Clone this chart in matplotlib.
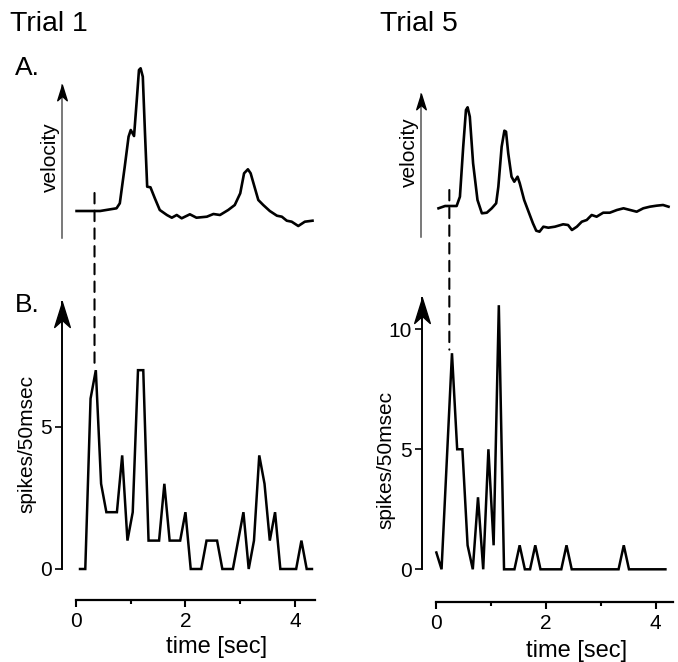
import numpy as np
import matplotlib.pyplot as plt
from matplotlib.patches import ConnectionPatch
from matplotlib.path import Path

plt.rcParams["font.family"] = ["Liberation Sans", "DejaVu Sans"]

W, H = 678, 662

# --- velocity traces (time in s, velocity in arbitrary units) ---
vel1_t = [0.01, 0.44, 0.74, 0.80, 0.89, 0.96, 1.00, 1.06, 1.11, 1.15, 1.18, 1.22,
          1.26, 1.30, 1.36, 1.44, 1.53, 1.66, 1.75, 1.84, 1.93, 2.08, 2.20, 2.39,
          2.51, 2.63, 2.78, 2.90, 3.00, 3.07, 3.14, 3.19, 3.26, 3.33, 3.42, 3.54,
          3.67, 3.76, 3.85, 3.94, 4.06, 4.18, 4.32]
vel1_v = [0.0, 0.0, 0.27, 0.77, 4.43, 7.43, 8.1, 7.5, 11.1, 14.1, 14.27, 13.43,
          7.77, 2.43, 2.37, 1.27, 0.1, -0.4, -0.67, -0.4, -0.73, -0.33, -0.67, -0.57,
          -0.3, -0.4, 0.1, 0.6, 1.77, 3.77, 4.17, 3.77, 2.43, 1.1, 0.6, 0.0,
          -0.47, -0.57, -0.97, -1.07, -1.5, -1.07, -0.97]

vel5_t = [0.04, 0.16, 0.37, 0.43, 0.49, 0.54, 0.57, 0.61, 0.67, 0.75, 0.83, 0.92,
          1.01, 1.09, 1.13, 1.19, 1.24, 1.27, 1.31, 1.37, 1.42, 1.48, 1.52, 1.60,
          1.68, 1.76, 1.82, 1.88, 1.95, 2.04, 2.16, 2.31, 2.40, 2.47, 2.56, 2.65,
          2.74, 2.83, 2.92, 3.04, 3.16, 3.29, 3.41, 3.53, 3.65, 3.77, 3.89, 4.01,
          4.13, 4.23]
vel5_v = [-0.03, 0.2, 0.2, 1.13, 6.13, 9.8, 10.07, 9.13, 4.47, 0.8, -0.53, -0.47,
          -0.03, 0.47, 2.13, 6.13, 7.73, 7.63, 5.47, 3.13, 2.63, 3.13, 2.47, 0.8,
          -0.37, -1.53, -2.27, -2.37, -1.87, -1.97, -1.87, -1.63, -1.7, -2.2, -1.87, -1.37,
          -1.2, -0.7, -0.87, -0.47, -0.47, -0.2, -0.03, -0.2, -0.37, -0.03, 0.13, 0.23,
          0.3, 0.13]

# --- spike counts per bin ---
bin1_start, bin1_step = 0.073, 0.0963
spikes1 = [0, 0, 6, 7, 3, 2, 2, 2, 4, 1, 2, 7, 7, 1, 1, 1, 3, 1, 1, 1, 2, 0, 0,
           0, 1, 1, 1, 0, 0, 0, 1, 2, 0, 1, 4, 3, 1, 2, 0, 0, 0, 0, 1, 0, 0]
bin5_start, bin5_step = 0.0, 0.095
spikes5 = [0.7, 0, 4.5, 9, 5, 5, 1, 0, 3, 0, 5, 1, 11, 0, 0, 0, 1, 0, 0, 1, 0, 0, 0,
           0, 0, 1, 0, 0, 0, 0, 0, 0, 0, 0, 0, 0, 1, 0, 0, 0, 0, 0, 0, 0, 0]

# movement onset markers (s) and where the dashed line stops
onset1, onset1_vtop, onset1_sbot = 0.338, 1.8, 7.25
onset5, onset5_vtop, onset5_sbot = 0.237, 1.8, 9.15

# stealth-style arrowhead, tip at origin
ARROW = Path([(0, 0), (0.5, -1.6), (0, -1.15), (-0.5, -1.6), (0, 0)],
             [Path.MOVETO, Path.LINETO, Path.LINETO, Path.LINETO, Path.CLOSEPOLY])

fig = plt.figure(figsize=(W / 100, H / 100), dpi=100)


def px_axes(left, right, top, bottom):
    return fig.add_axes([left / W, 1 - bottom / H, (right - left) / W, (bottom - top) / H])


def arrow_head(ax, size):
    ax.plot(0, 1, marker=ARROW, markersize=size, color="black", mec="black",
            transform=ax.transAxes, clip_on=False, zorder=5)


def velocity_panel(ax, t, v, xlim, ylim):
    ax.plot(t, v, color="black", lw=1.9, clip_on=False, solid_joinstyle="round")
    ax.set_xlim(xlim)
    ax.set_ylim(ylim)
    for s in ["top", "right", "bottom"]:
        ax.spines[s].set_visible(False)
    ax.spines["left"].set_color("#555555")
    ax.spines["left"].set_linewidth(1.1)
    ax.set_xticks([])
    ax.set_yticks([])
    ax.patch.set_alpha(0)
    arrow_head(ax, 22)


def spike_panel(ax, start, step, counts, xlim, ylim, yticks, outward, xend):
    t = start + step * np.arange(len(counts))
    ax.plot(t, counts, color="black", lw=1.8, clip_on=False, solid_joinstyle="miter")
    ax.set_xlim(xlim)
    ax.set_ylim(ylim)
    ax.spines["top"].set_visible(False)
    ax.spines["right"].set_visible(False)
    ax.spines["left"].set_linewidth(1.4)
    ax.spines["bottom"].set_position(("outward", outward))
    ax.spines["bottom"].set_bounds(0, xend)
    ax.spines["bottom"].set_linewidth(1.6)
    ax.set_xticks([0, 2, 4])
    ax.set_xticks([1, 3], minor=True)
    ax.set_xticklabels(["0", "2", "4"])
    ax.set_yticks(yticks)
    ax.tick_params(axis="x", which="major", direction="out", length=5, width=1.5,
                   labelsize=15, pad=4)
    ax.tick_params(axis="x", which="minor", direction="out", length=3, width=1.5)
    ax.tick_params(axis="y", direction="out", length=5, width=1.2, labelsize=15, pad=2)
    ax.patch.set_alpha(0)
    arrow_head(ax, 36)


# Trial 1
axv1 = px_axes(62, 320, 85, 238)
velocity_panel(axv1, vel1_t, vel1_v, (-0.256, 4.457), (-2.7, 12.6))
axs1 = px_axes(62, 320, 302, 569)
spike_panel(axs1, bin1_start, bin1_step, spikes1, (-0.256, 4.457), (0, 9.4),
            [0, 5], 22.3, 4.36)

# Trial 5
axv5 = px_axes(421, 676, 94, 237)
velocity_panel(axv5, vel5_t, vel5_v, (-0.279, 4.366), (-2.9, 11.4))
axs5 = px_axes(421.5, 676, 298, 569.3)
spike_panel(axs5, bin5_start, bin5_step, spikes5, (-0.271, 4.373), (0, 11.3),
            [0, 5, 10], 23.3, 4.31)

# dashed onset lines across velocity and spike panels
for axv, axs, t0, vtop, sbot in [(axv1, axs1, onset1, onset1_vtop, onset1_sbot),
                                 (axv5, axs5, onset5, onset5_vtop, onset5_sbot)]:
    con = ConnectionPatch(xyA=(t0, vtop), coordsA=axv.transData,
                          xyB=(t0, sbot), coordsB=axs.transData,
                          color="black", lw=1.5, linestyle=(0, (5, 3.5)))
    fig.add_artist(con)

# text
fig.text(10 / W, 1 - 24 / H, "Trial 1", fontsize=20.5, va="center", ha="left")
fig.text(380 / W, 1 - 24 / H, "Trial 5", fontsize=20.5, va="center", ha="left")
fig.text(15 / W, 1 - 68 / H, "A.", fontsize=19, va="center", ha="left")
fig.text(15 / W, 1 - 305 / H, "B.", fontsize=19, va="center", ha="left")

fig.text(50 / W, 1 - 157 / H, "velocity", fontsize=15, rotation=90, va="center", ha="center")
fig.text(409 / W, 1 - 152 / H, "velocity", fontsize=15, rotation=90, va="center", ha="center")
fig.text(27 / W, 1 - 444 / H, "spikes/50msec", fontsize=15, rotation=90, va="center", ha="center")
fig.text(386 / W, 1 - 460 / H, "spikes/50msec", fontsize=15, rotation=90, va="center", ha="center")

fig.text(217 / W, 1 - 647 / H, "time [sec]", fontsize=17, va="center", ha="center")
fig.text(577 / W, 1 - 651 / H, "time [sec]", fontsize=17, va="center", ha="center")

fig.savefig("out.png", dpi=100)
